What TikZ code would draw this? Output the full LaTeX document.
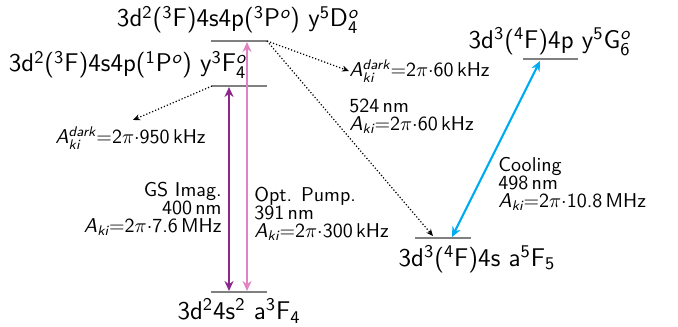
\documentclass[tikz,border=0pt]{standalone}
\usepackage{amsmath}
\usetikzlibrary{arrows.meta}
\renewcommand{\familydefault}{\sfdefault}
\definecolor{lvl}{RGB}{128,128,128}
\definecolor{gspurple}{RGB}{140,40,140}
\definecolor{oppink}{RGB}{225,130,195}
\definecolor{coolcyan}{RGB}{0,174,239}
\newcommand{\ts}[2]{$^{\textsf{#1}}_{\textsf{#2}}$}
\newcommand{\up}[1]{$^{\textsf{#1}}$}
\newcommand{\dn}[1]{$_{\textsf{#1}}$}
\newcommand{\Ak}{\textit{A}$_{\textit{ki}}$}
\newcommand{\Akd}{\textit{A}$^{\textit{dark}}_{\textit{ki}}$}
\newcommand{\tp}{$=$2$\pi\cdot$}
\tikzset{
  level/.style={draw=lvl, line width=1.2pt},
  big/.style={font=\fontsize{12.8}{14}\selectfont, inner sep=0pt},
  small/.style={font=\fontsize{10}{9}\selectfont, inner sep=0pt},
  trans/.style={line width=1.1pt, {Stealth[length=5pt,width=4.5pt]}-{Stealth[length=5pt,width=4.5pt]}},
  decay/.style={densely dotted, line width=0.6pt, -{Stealth[length=3.5pt,width=3pt]}}
}
\begin{document}
\begin{tikzpicture}[x=0.5pt,y=-0.5pt]
\useasboundingbox (0,0) rectangle (678,326);
% levels
\coordinate (Dl) at (211,41); \coordinate (Dr) at (267,41);
\coordinate (Fl) at (212,86); \coordinate (Fr) at (267,86);
\coordinate (Gl) at (211,292); \coordinate (Gr) at (267,292);
\coordinate (al) at (415,238); \coordinate (ar) at (471,238);
\coordinate (yl) at (523,59); \coordinate (yr) at (578,59);
\draw[level] (Dl) -- (Dr);
\draw[level] (Fl) -- (Fr);
\draw[level] (Gl) -- (Gr);
\draw[level] (al) -- (ar);
\draw[level] (yl) -- (yr);
% level labels
\node[big] (LD) at (238,20) {3d\up{2}(\up{3}F)4s4p(\up{3}P$^{\textit{o}}$) y\up{5}D\ts{\textit{o}}{4}};
\node[big] (LF) at (128,65) {3d\up{2}(\up{3}F)4s4p(\up{1}P$^{\textit{o}}$) y\up{3}F\ts{\textit{o}}{4}};
\node[big] (LG) at (239,311) {3d\up{2}4s\up{2} a\up{3}F\dn{4}};
\node[big] (La) at (477,259) {3d\up{3}(\up{4}F)4s a\up{5}F\dn{5}};
\node[big] (Ly) at (550,42) {3d\up{3}(\up{4}F)4p y\up{5}G\ts{\textit{o}}{6}};
% transition endpoints
\coordinate (gsT) at (229,87); \coordinate (gsB) at (229,291);
\coordinate (opT) at (247,42); \coordinate (opB) at (247,291);
\coordinate (coT) at (540,61); \coordinate (coB) at (452,237);
\draw[trans, gspurple] (gsT) -- (gsB);
\draw[trans, oppink] (opT) -- (opB);
\draw[trans, coolcyan] (coT) -- (coB);
% decay labels
\node[small, anchor=west] (d60) at (349,71) {\Akd\tp 60\,kHz};
\node[small, anchor=west] (d950) at (55,138) {\Akd\tp 950\,kHz};
\node[small, anchor=west, align=left] (t524) at (349,116) {524\,nm\\\Ak\tp 60\,kHz};
\coordinate (e950) at (133,120);
\coordinate (ea) at (433,236);
\draw[decay] (Dr) -- (d60.west);
\draw[decay] (Fl) -- (e950);
\draw[decay] (Dr) -- (ea);
% transition labels
\node[small, anchor=east, align=right] (lgs) at (222,209) {GS Imag.\\400\,nm\\\Ak\tp 7.6\,MHz};
\node[small, anchor=west, align=left] (lop) at (254,214) {Opt. Pump.\\391\,nm\\\Ak\tp 300\,kHz};
\node[small, anchor=west, align=left] (lco) at (498,184) {Cooling\\498\,nm\\\Ak\tp 10.8\,MHz};
\end{tikzpicture}
\end{document}
